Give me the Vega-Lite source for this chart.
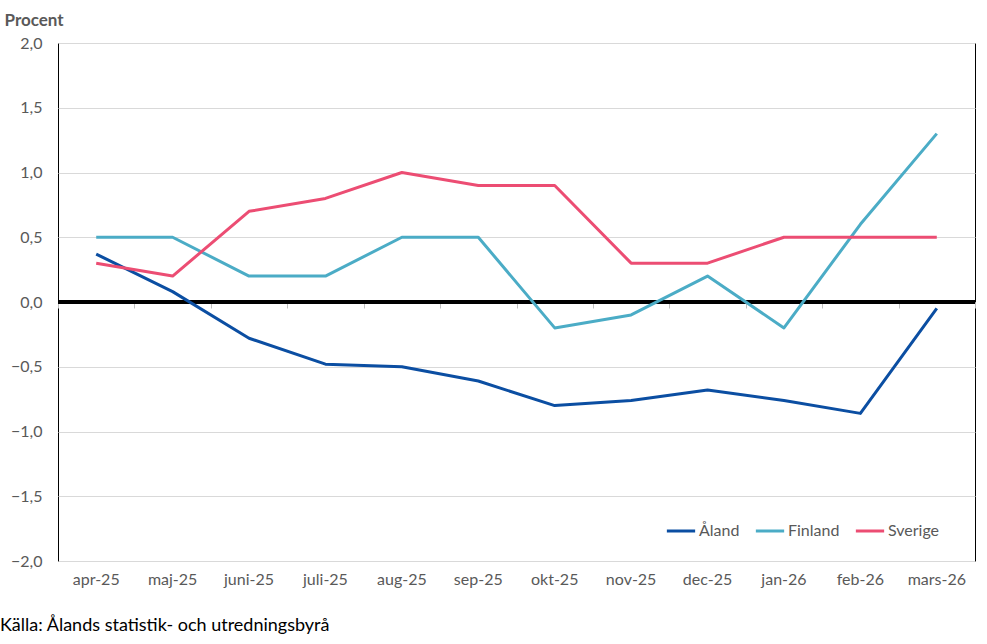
{
  "$schema": "https://vega.github.io/schema/vega-lite/v6.json",
  "width": 917,
  "height": 518,
  "autosize": {"type": "none"},
  "padding": {"left": 58, "top": 43, "right": 12, "bottom": 83},
  "background": "white",
  "config": {
    "font": "Lato",
    "view": {"stroke": "#000000", "strokeWidth": 1},
    "axis": {"labelFont": "Lato", "titleFont": "Lato"}
  },
  "title": {
    "text": "Källa: Ålands statistik- och utredningsbyrå",
    "orient": "bottom",
    "anchor": "start",
    "frame": "group",
    "dx": -58,
    "offset": 30,
    "fontSize": 18,
    "fontWeight": "normal",
    "color": "#000000",
    "font": "Lato"
  },
  "data": {
    "values": [
      {"month": "apr-25", "serie": "Åland", "value": 0.37},
      {"month": "maj-25", "serie": "Åland", "value": 0.08},
      {"month": "juni-25", "serie": "Åland", "value": -0.28},
      {"month": "juli-25", "serie": "Åland", "value": -0.48},
      {"month": "aug-25", "serie": "Åland", "value": -0.50},
      {"month": "sep-25", "serie": "Åland", "value": -0.61},
      {"month": "okt-25", "serie": "Åland", "value": -0.80},
      {"month": "nov-25", "serie": "Åland", "value": -0.76},
      {"month": "dec-25", "serie": "Åland", "value": -0.68},
      {"month": "jan-26", "serie": "Åland", "value": -0.76},
      {"month": "feb-26", "serie": "Åland", "value": -0.86},
      {"month": "mars-26", "serie": "Åland", "value": -0.05},
      {"month": "apr-25", "serie": "Finland", "value": 0.5},
      {"month": "maj-25", "serie": "Finland", "value": 0.5},
      {"month": "juni-25", "serie": "Finland", "value": 0.2},
      {"month": "juli-25", "serie": "Finland", "value": 0.2},
      {"month": "aug-25", "serie": "Finland", "value": 0.5},
      {"month": "sep-25", "serie": "Finland", "value": 0.5},
      {"month": "okt-25", "serie": "Finland", "value": -0.2},
      {"month": "nov-25", "serie": "Finland", "value": -0.1},
      {"month": "dec-25", "serie": "Finland", "value": 0.2},
      {"month": "jan-26", "serie": "Finland", "value": -0.2},
      {"month": "feb-26", "serie": "Finland", "value": 0.6},
      {"month": "mars-26", "serie": "Finland", "value": 1.3},
      {"month": "apr-25", "serie": "Sverige", "value": 0.3},
      {"month": "maj-25", "serie": "Sverige", "value": 0.2},
      {"month": "juni-25", "serie": "Sverige", "value": 0.7},
      {"month": "juli-25", "serie": "Sverige", "value": 0.8},
      {"month": "aug-25", "serie": "Sverige", "value": 1.0},
      {"month": "sep-25", "serie": "Sverige", "value": 0.9},
      {"month": "okt-25", "serie": "Sverige", "value": 0.9},
      {"month": "nov-25", "serie": "Sverige", "value": 0.3},
      {"month": "dec-25", "serie": "Sverige", "value": 0.3},
      {"month": "jan-26", "serie": "Sverige", "value": 0.5},
      {"month": "feb-26", "serie": "Sverige", "value": 0.5},
      {"month": "mars-26", "serie": "Sverige", "value": 0.5}
    ]
  },
  "resolve": {"axis": {"x": "independent"}},
  "layer": [
    {
      "mark": {"type": "text", "text": ""},
      "encoding": {
        "x": {
          "field": "month", "type": "ordinal", "sort": null,
          "scale": {"type": "band", "paddingInner": 0, "paddingOuter": 0},
          "axis": {
            "orient": "bottom", "offset": -259, "labels": false, "title": null,
            "domain": false, "grid": false, "ticks": true, "tickBand": "extent",
            "tickColor": "#bfbfbf", "tickSize": 6, "tickWidth": 1
          }
        },
        "y": {"field": "value", "type": "quantitative", "scale": {"domain": [-2, 2]}}
      }
    },
    {
      "mark": {"type": "rule", "color": "#000000", "strokeWidth": 3},
      "encoding": {"y": {"datum": 0, "type": "quantitative"}}
    },
    {
      "mark": {"type": "line", "strokeWidth": 3, "strokeJoin": "round"},
      "encoding": {
        "x": {
          "field": "month", "type": "ordinal", "sort": null,
          "scale": {"type": "band", "paddingInner": 0, "paddingOuter": 0},
          "axis": {
            "orient": "bottom", "title": null, "labelAngle": 0, "ticks": false,
            "domain": false, "grid": false, "labelPadding": 10,
            "labelFontSize": 16, "labelColor": "#595959", "labelFont": "Lato"
          }
        },
        "y": {
          "field": "value", "type": "quantitative",
          "scale": {"domain": [-2, 2], "nice": false, "zero": false},
          "axis": {
            "values": [-2, -1.5, -1, -0.5, 0, 0.5, 1, 1.5, 2],
            "labelExpr": "replace(format(datum.value, '.1f'), '.', ',')",
            "title": "Procent", "titleAngle": 0, "titleAlign": "left",
            "titleBaseline": "alphabetic", "titleX": -54, "titleY": -18,
            "titleFontSize": 17, "titleFontWeight": "bold", "titleColor": "#595959",
            "labelFontSize": 16, "labelColor": "#595959", "labelPadding": 16,
            "ticks": false, "domain": false, "gridColor": "#d9d9d9", "gridWidth": 1
          }
        },
        "color": {
          "field": "serie", "type": "nominal",
          "scale": {"domain": ["Åland", "Finland", "Sverige"], "range": ["#0b4ea2", "#4bacc6", "#ec4d73"]},
          "legend": {
            "title": null, "orient": "none", "direction": "horizontal",
            "legendX": 607, "legendY": 472,
            "symbolType": "stroke", "symbolSize": 800, "symbolStrokeWidth": 3,
            "labelFontSize": 16, "labelColor": "#595959", "labelFont": "Lato",
            "labelOffset": 2, "columnPadding": 9
          }
        }
      }
    }
  ]
}
